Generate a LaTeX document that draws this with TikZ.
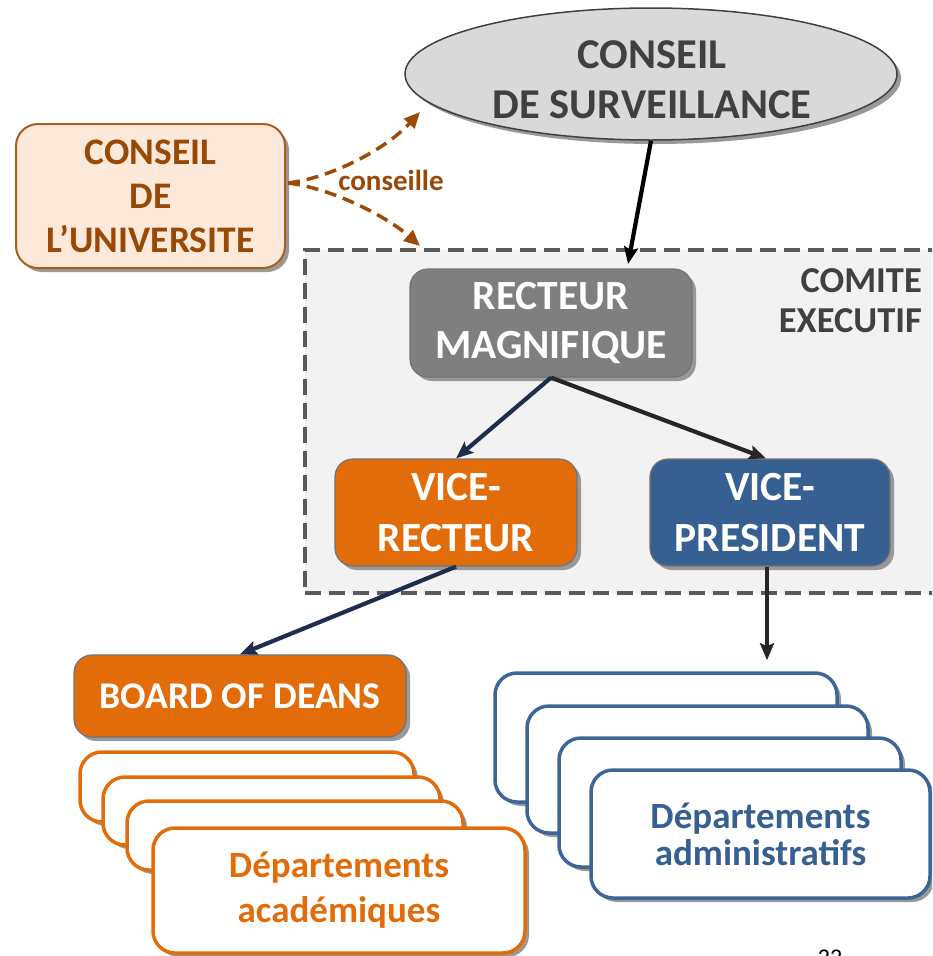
\documentclass[tikz,border=0pt]{standalone}
\usepackage{fontspec}
\setmainfont{Carlito}
\usetikzlibrary{shapes.geometric,arrows.meta,shadows}
\definecolor{orangeC}{HTML}{E36C0A}
\definecolor{blueC}{HTML}{376092}
\definecolor{blueB}{HTML}{3D6596}
\definecolor{brownC}{HTML}{9C4A06}
\definecolor{brownT}{HTML}{984807}
\definecolor{brownB}{HTML}{A85E1E}
\definecolor{peach}{HTML}{FDE9D9}
\definecolor{darkT}{HTML}{404040}
\definecolor{navyA}{HTML}{1F2D4D}
\definecolor{blackA}{HTML}{262626}
\definecolor{dashC}{HTML}{595959}
\definecolor{panel}{HTML}{F2F2F2}
\definecolor{ellfill}{HTML}{D9D9D9}
\definecolor{rmfill}{HTML}{7F7F7F}
\tikzset{
  shad/.style={drop shadow={shadow xshift=4pt,shadow yshift=-4pt,fill=black!40,opacity=1}},
  boxbase/.style={rectangle, rounded corners=18pt, inner sep=0pt, shad},
  deptA/.style={boxbase, draw=orangeC, line width=3.5pt, fill=white, rounded corners=22pt},
  deptB/.style={boxbase, draw=blueB, line width=3.5pt, fill=white, rounded corners=22pt},
  solidbox/.style={boxbase, draw=black!55, line width=1.2pt, text=white, align=center},
  darrow/.style={line width=4.2pt, -{Stealth[length=17pt,width=14pt,inset=3pt]}},
  brarrow/.style={draw=brownC, line width=3.5pt, dash pattern=on 12pt off 7pt, -{Triangle[length=16pt,width=14pt]}},
}
\begin{document}
\begin{tikzpicture}[x=1pt,y=-1pt]
\useasboundingbox (0,0) rectangle (932,956);
\clip (0,0) rectangle (932,956);
\fill[white] (0,0) rectangle (932,956);

% executive committee panel
\node[rectangle, fill=panel, draw=dashC, line width=4pt, dash pattern=on 16pt off 8pt,
      minimum width=640pt, minimum height=343pt, inner sep=0pt] (ce) at (625,421.5) {};
\node[anchor=east, align=right, text=darkT, font=\fontsize{36.5}{40}\selectfont\bfseries, inner sep=0pt]
      (cet) at (922,301) {COMITE\\EXECUTIF};

% conseil de surveillance
\node[ellipse, fill=ellfill, draw=darkT, line width=1.5pt, minimum width=492pt, minimum height=132pt,
      inner sep=0pt, shad] (ell) at (651,74) {};
\node[align=center, text=darkT, font=\fontsize{42.5}{50}\selectfont\bfseries, inner sep=0pt]
      (ellt) at (652,80) {CONSEIL\\DE SURVEILLANCE};

% conseil de l'universite
\node[boxbase, fill=peach, draw=brownB, line width=2pt, minimum width=269pt, minimum height=144pt,
      rounded corners=22pt, text=brownT, align=center, font=\fontsize{37.5}{44}\selectfont\bfseries]
      (cu) at (150.5,196) {CONSEIL\\DE\\L’UNIVERSITE};

% recteur
\node[solidbox, fill=rmfill, minimum width=282pt, minimum height=108pt,
      font=\fontsize{41.5}{49}\selectfont\bfseries] (rm) at (551,323) {RECTEUR\\MAGNIFIQUE};
\node[solidbox, fill=orangeC, minimum width=242pt, minimum height=107pt,
      font=\fontsize{41.5}{51}\selectfont\bfseries] (vr) at (456,512.5) {VICE-\\RECTEUR};
\node[solidbox, fill=blueC, minimum width=240pt, minimum height=107pt,
      font=\fontsize{41.5}{51}\selectfont\bfseries] (vp) at (770,512.5) {VICE-\\PRESIDENT};
\node[solidbox, fill=orangeC, minimum width=332pt, minimum height=82pt,
      font=\fontsize{37.7}{44}\selectfont\bfseries] (bod) at (240,696) {BOARD OF DEANS};

% academic departments stack
\node[deptA, minimum width=334pt, minimum height=70pt] (a1) at (247,787) {};
\node[deptA, minimum width=337pt, minimum height=68pt] (a2) at (271.5,811) {};
\node[deptA, minimum width=336pt, minimum height=69pt] (a3) at (295,835.5) {};
\node[deptA, minimum width=372pt, minimum height=125pt, text=orangeC, align=center,
      font=\fontsize{37}{45}\selectfont\bfseries] (a4) at (339,890.5) {Départements\\académiques};

% administrative departments stack
\node[deptB, minimum width=342pt, minimum height=129pt] (d1) at (666,737.5) {};
\node[deptB, minimum width=341pt, minimum height=127pt] (d2) at (697.5,769.5) {};
\node[deptB, minimum width=342pt, minimum height=129pt] (d3) at (730,802.5) {};
\node[deptB, minimum width=339pt, minimum height=128pt, text=blueC, align=center,
      font=\fontsize{37}{37}\selectfont\bfseries] (d4) at (760.5,834) {Départements\\administratifs};

% connectors
\coordinate (cs) at (288,183);
\coordinate (ue) at (420,112);
\coordinate (le) at (420,246);
\coordinate (rt) at (628,264);
\draw[brarrow] (cs) .. controls (330,178) and (385,150) .. (ue);
\draw[brarrow] (cs) .. controls (330,188) and (385,215) .. (le);
\node[text=brownT, font=\fontsize{29}{34}\selectfont\bfseries, inner sep=0pt] (cl) at (391,180) {conseille};

\draw[darrow, draw=black, fill=black] (ell.south) -- (rt);
\draw[darrow, draw=navyA, fill=navyA] (rm.south) -- (vr.north);
\draw[darrow, draw=blackA, fill=blackA] (rm.south) -- ([xshift=-4pt]vp.north);
\draw[darrow, draw=navyA, fill=navyA] (vr.south) -- (bod.north);
\draw[darrow, draw=blackA, fill=blackA, shorten >=11pt] ([xshift=-3pt]vp.south) -- ([xshift=-3pt]vp.south |- d1.north);

% page number
\node[anchor=north, inner sep=0pt, font=\fontsize{24}{28}\selectfont, text=black] (pg) at (830,950) {22};
\end{tikzpicture}
\end{document}
